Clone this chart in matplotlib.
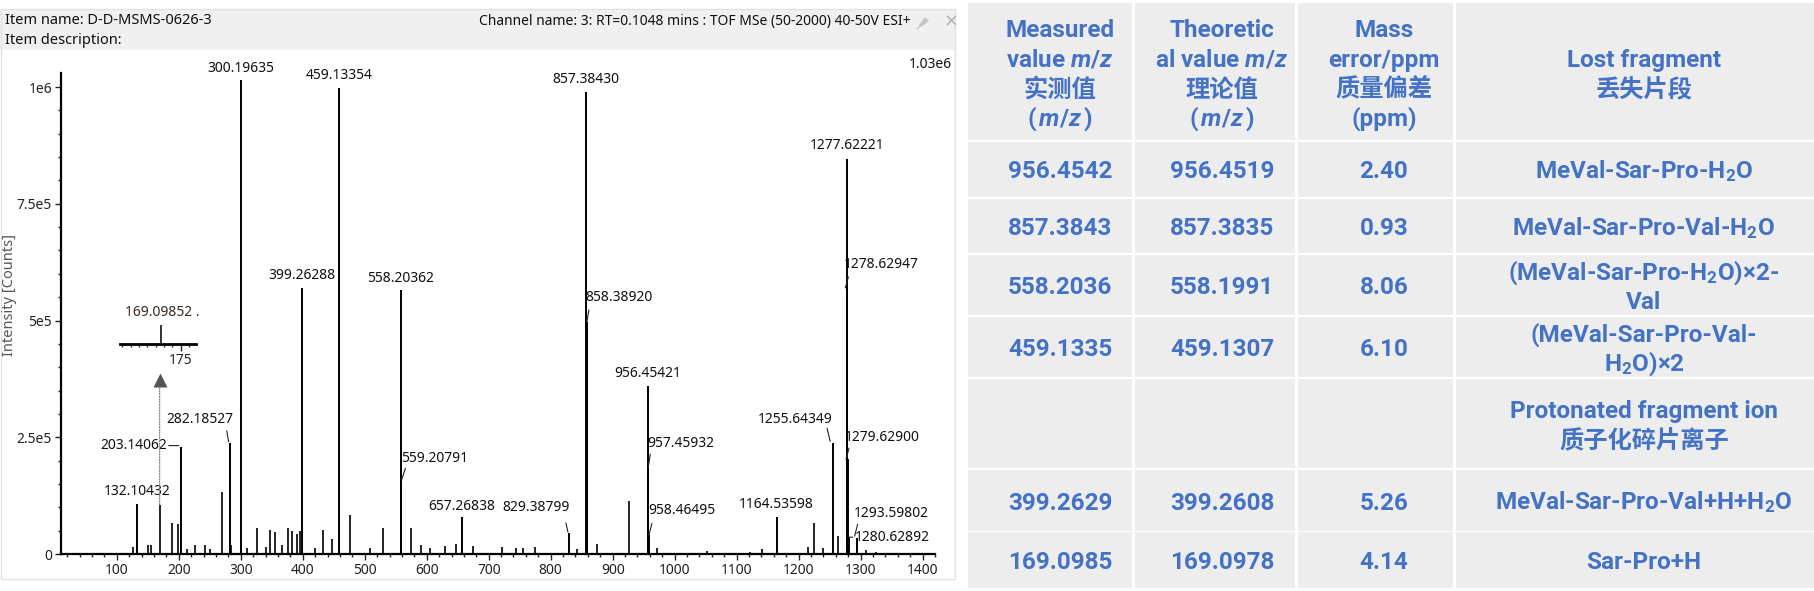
import matplotlib
matplotlib.use('Agg')
import numpy as np
import matplotlib.pyplot as plt
from matplotlib.patches import Rectangle, Polygon
from matplotlib.transforms import offset_copy
from matplotlib.ticker import MultipleLocator

plt.rcParams['mathtext.fontset'] = 'custom'
plt.rcParams['mathtext.rm'] = 'Roboto:bold'
plt.rcParams['mathtext.it'] = 'Roboto:italic:bold'
plt.rcParams['mathtext.bf'] = 'Roboto:bold'

# ------------------------------------------------------------------ data
labeled_mz = [132.10432, 203.14062, 282.18527, 300.19635, 399.26288, 459.13354,
              558.20362, 559.20791, 657.26838, 829.38799, 857.38430, 858.38920,
              956.45421, 957.45932, 958.46495, 1164.53598, 1255.64349, 1277.62221,
              1278.62947, 1279.62900, 1280.62892, 1293.59802]
labeled_int = [1.08e5, 2.30e5, 2.38e5, 1.015e6, 5.70e5, 9.98e5,
               5.65e5, 1.58e5, 7.9e4, 4.5e4, 9.90e5, 4.97e5,
               3.60e5, 1.86e5, 4.0e4, 8.0e4, 2.37e5, 8.46e5,
               5.70e5, 2.03e5, 3.6e4, 3.4e4]

other_mz = [126, 150, 156, 189, 198, 213, 226, 243, 250, 269, 285, 310, 326, 341,
            347, 355, 367, 376, 382, 390, 395, 419, 432, 448, 477, 508, 529, 575,
            590, 605, 630, 647, 674, 722, 744, 756, 774, 842, 874, 927, 972, 1052,
            1122, 1141, 1215, 1225, 1239, 1263, 1308, 1325]
other_int = [1.6e4, 2.0e4, 2.0e4, 6.6e4, 6.4e4, 1.0e4, 2.0e4, 2.0e4, 1.0e4, 1.32e5,
             2.0e4, 1.2e4, 5.5e4, 1.5e4, 5.1e4, 4.7e4, 2.0e4, 5.6e4, 5.0e4, 4.3e4,
             4.9e4, 1.2e4, 5.2e4, 3.2e4, 8.4e4, 1.2e4, 5.5e4, 5.5e4, 2.0e4, 1.2e4,
             1.8e4, 2.2e4, 1.8e4, 1.5e4, 1.2e4, 1.2e4, 1.4e4, 1.0e4, 2.2e4, 1.13e5,
             1.2e4, 6.0e3, 5.0e3, 1.0e4, 1.6e4, 6.6e4, 1.2e4, 3.8e4, 8.0e3, 5.0e3]

inset_mz = 169.09852
inset_int = 1.05e5

x_ticks = list(range(100, 1401, 100))
y_ticks = [0, 2.5e5, 5e5, 7.5e5, 1e6]
y_tick_labels = ['0', '2.5e5', '5e5', '7.5e5', '1e6']
full_scale = '1.03e6'

item_name = 'Item name: D-D-MSMS-0626-3'
item_desc = 'Item description:'
channel = 'Channel name: 3: RT=0.1048 mins : TOF MSe (50-2000) 40-50V ESI+'
y_title = 'Intensity [Counts]'

header_cells = [['Measured', 'value $m/z$', '实测值', '($\\,m/z\\,$)'],
                ['Theoretic', 'al value $m/z$', '理论值', '($\\,m/z\\,$)'],
                ['Mass', 'error/ppm', '质量偏差', '(ppm)'],
                ['Lost fragment', '丢失片段']]
measured = ['956.4542', '857.3843', '558.2036', '459.1335', '', '399.2629', '169.0985']
theoretical = ['956.4519', '857.3835', '558.1991', '459.1307', '', '399.2608', '169.0978']
mass_error = ['2.40', '0.93', '8.06', '6.10', '', '5.26', '4.14']
fragments = [['MeVal-Sar-Pro-H$_2$O'],
             ['MeVal-Sar-Pro-Val-H$_2$O'],
             ['(MeVal-Sar-Pro-H$_2$O)×2-', 'Val'],
             ['(MeVal-Sar-Pro-Val-', 'H$_2$O)×2'],
             ['Protonated fragment ion', '质子化碎片离子'],
             ['MeVal-Sar-Pro-Val+H+H$_2$O'],
             ['Sar-Pro+H']]

# ------------------------------------------------------------------ layout
W, H, DPI = 1814, 591, 100
SANS = 'Noto Sans'
LAB_FS = 10
# label layout: (dx px, dy px, ha, leader ((sx,sy),(ex,ey)) offsets from peak top)
label_layout = {
    0: (0, 12, 'center', None),
    1: (-14, 1, 'right', ((-12, 1), (-2, 1))),
    2: (-30, 23, 'center', ((-3, 12), (-1, 1))),
    3: (0, 12, 'center', None),
    4: (0, 12, 'center', None),
    5: (0, 12, 'center', None),
    6: (0, 12, 'center', None),
    7: (0, 22, 'left', ((4, 12), (0, 0))),
    8: (0, 11, 'center', None),
    9: (-33, 25, 'center', ((-3, 10), (-1, 1))),
    10: (0, 12, 'center', None),
    11: (-2, 24, 'left', ((2, 12), (0, 0))),
    12: (0, 12, 'center', None),
    13: (-1, 24, 'left', ((2, 13), (0, 0))),
    14: (-1, 25, 'left', ((3, 12), (0, 0))),
    15: (0, 12, 'center', None),
    16: (-38, 24, 'center', ((-6, 15), (-3, 2))),
    17: (0, 13, 'center', None),
    18: (-4, 23, 'left', ((1, 11), (-2, 0))),
    19: (-3, 22, 'left', ((1, 11), (-2, 0))),
    20: (6, 0, 'left', ((-1, 0), (4, 0))),
    21: (-3, 25, 'left', ((1, 14), (-2, 2))),
}

fig = plt.figure(figsize=(W / DPI, H / DPI), dpi=DPI)
fig.patch.set_facecolor('white')
lay = fig.add_axes([0, 0, 1, 1], zorder=0)
lay.set_xlim(0, W)
lay.set_ylim(H, 0)
lay.axis('off')

# spectrum window chrome
lay.add_patch(Rectangle((0, 9), 955, 41, fc='#F0F0F0', ec='none'))
lay.add_patch(Rectangle((0.5, 9), 954.5, 570, fc='none', ec='#E2E2E2', lw=1))
lay.text(5, 21, item_name, va='center', ha='left', fontsize=10.5, family=SANS, color='#111')
lay.text(5, 41, item_desc, va='center', ha='left', fontsize=10.5, family=SANS, color='#111')
lay.text(911, 21, channel, va='center', ha='right', fontsize=10, family=SANS, color='#111')
lay.text(951, 22, '×', va='center', ha='center', fontsize=13, family='DejaVu Sans', color='#B0B0B0')
lay.add_patch(Polygon([[919, 25], [925, 17], [929, 21], [921, 27]], closed=True, fc='#C4C4C4', ec='none'))
lay.plot([917, 921], [29, 25], color='#C4C4C4', lw=1)
lay.text(952, 64, full_scale, va='center', ha='right', fontsize=LAB_FS, family=SANS, color='#111')
lay.text(10, 295, y_title, va='center', ha='center', rotation=90, fontsize=10.5,
         family=SANS, color='#555')

# main spectrum axes
ax_l, ax_r, ax_t, ax_b = 61, 935, 73, 554
ax = fig.add_axes([ax_l / W, 1 - ax_b / H, (ax_r - ax_l) / W, (ax_b - ax_t) / H], zorder=2)
ax.patch.set_alpha(0)
ax.set_xlim(10, 1420)
ax.set_ylim(0, 1.03e6)
ax.vlines(other_mz, 0, other_int, color='black', lw=1.2)
ax.vlines([inset_mz], 0, [inset_int], color='black', lw=1.2)
ax.vlines(labeled_mz, 0, labeled_int, color='black', lw=1.4)
for s in ('top', 'right'):
    ax.spines[s].set_visible(False)
for s in ('left', 'bottom'):
    ax.spines[s].set_linewidth(1.6)
ax.set_xticks(x_ticks)
ax.set_xticklabels([str(t) for t in x_ticks])
ax.xaxis.set_minor_locator(MultipleLocator(20))
ax.set_yticks(y_ticks)
ax.set_yticklabels(y_tick_labels)
ax.yaxis.set_minor_locator(MultipleLocator(5e4))
ax.tick_params(which='major', length=4, width=1, labelsize=10, pad=2.5, colors='#222')
ax.tick_params(which='minor', length=2.2, width=1, colors='#222')
for t in ax.get_xticklabels() + ax.get_yticklabels():
    t.set_family(SANS)

for i, (mz, inten) in enumerate(zip(labeled_mz, labeled_int)):
    dx, dy, ha, leader = label_layout[i]
    ax.annotate(f'{mz:.5f}', xy=(mz, inten), xytext=(dx, dy), textcoords='offset pixels',
                ha=ha, va='center', fontsize=LAB_FS, family=SANS, color='#111')
    if leader is not None:
        (sx, sy), (ex, ey) = leader
        tr = offset_copy(ax.transData, fig=fig, x=ex, y=ey, units='dots')
        ax.annotate('', xy=(mz, inten), xycoords=tr, xytext=(sx - ex, sy - ey),
                    textcoords='offset pixels',
                    arrowprops=dict(arrowstyle='-', color='#222', lw=0.8,
                                    shrinkA=0, shrinkB=0))

# pointer to inset
ax.annotate('', xy=(inset_mz, inset_int), xytext=(0, 117), textcoords='offset pixels',
            arrowprops=dict(arrowstyle='-', color='#888', lw=0.9, linestyle=(0, (1, 1.2)),
                            shrinkA=0, shrinkB=0))
ax.plot([inset_mz], [inset_int], marker='^', ms=10, color='#555', mec='none',
        transform=offset_copy(ax.transData, fig=fig, x=0, y=125, units='dots'), clip_on=False)

# inset zoom of the 169 peak
ins = fig.add_axes([120 / W, 1 - 344 / H, 76 / W, 30 / H], zorder=3)
ins.patch.set_alpha(0)
ins.set_xlim(156.8, 179.6)
ins.set_ylim(0, inset_int * 30 / 19)
ins.vlines([inset_mz], 0, [inset_int], color='#222', lw=1.3)
for s in ('top', 'right', 'left'):
    ins.spines[s].set_visible(False)
ins.spines['bottom'].set_linewidth(2)
ins.set_yticks([])
ins.set_xticks([175])
ins.set_xticklabels(['175'])
ins.xaxis.set_minor_locator(MultipleLocator(2.5))
ins.tick_params(which='major', length=5, width=1, labelsize=10, pad=1.5, colors='#222')
ins.tick_params(which='minor', length=2.5, width=1, colors='#222')
for t in ins.get_xticklabels():
    t.set_family(SANS)
ins.annotate(f'{inset_mz:.5f} .', xy=(inset_mz, inset_int), xytext=(1, 12),
             textcoords='offset pixels', ha='center', va='center', fontsize=LAB_FS,
             family=SANS, color='#3a2a20')

# ------------------------------------------------------------------ table
BLUE = '#4472C4'
CELL = '#EDEDED'
TFS = 17.5
col_left = [968, 1135, 1298, 1456]
col_right = [1132, 1295, 1453, 1814]
col_cx = [1060, 1222, 1384, 1644]
row_top = [3, 142, 199, 255, 317, 379, 470, 532]
row_bot = [140, 197, 253, 315, 377, 468, 531, 588]
LINE = 29.5


def is_cjk(s):
    return any(ord(ch) > 0x2E80 for ch in s)


def cell_text(x, yc, s):
    if is_cjk(s):
        lay.text(x, yc + 9.5, s, ha='center', va='baseline', fontsize=TFS,
                 family=['Noto Sans CJK SC', 'DejaVu Sans'], weight='bold', color=BLUE)
    else:
        lay.text(x, yc + 9, s, ha='center', va='baseline', fontsize=TFS,
                 family='Roboto', weight='bold', color=BLUE)


def cell_lines(x, yc, lines):
    n = len(lines)
    for k, s in enumerate(lines):
        cell_text(x, yc + (k - (n - 1) / 2) * LINE, s)


for r in range(len(row_top)):
    for c in range(4):
        lay.add_patch(Rectangle((col_left[c], row_top[r]), col_right[c] - col_left[c],
                                row_bot[r] - row_top[r], fc=CELL, ec='none'))

for c in range(4):
    cell_lines(col_cx[c], (row_top[0] + row_bot[0]) / 2 + 1, header_cells[c])

for i in range(len(measured)):
    yc = (row_top[i + 1] + row_bot[i + 1]) / 2
    for c, col in enumerate([measured, theoretical, mass_error]):
        if col[i]:
            cell_text(col_cx[c], yc, col[i])
    cell_lines(col_cx[3], yc, fragments[i])

fig.savefig('out.png', dpi=DPI, facecolor='white')
